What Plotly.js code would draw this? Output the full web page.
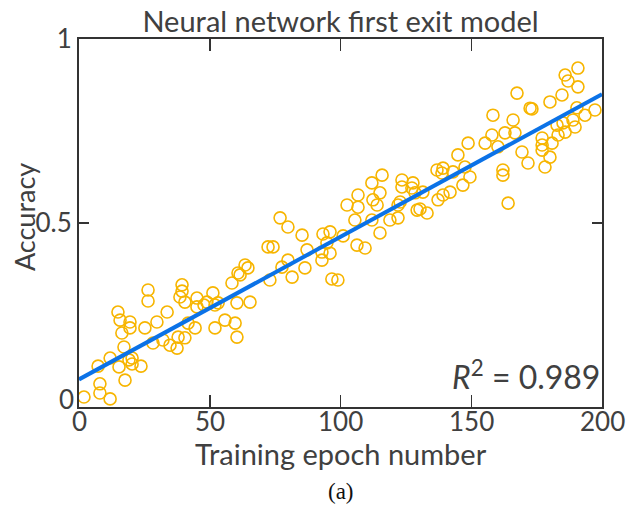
<!DOCTYPE html>
<html>
<head>
<meta charset="utf-8">
<script src="https://cdn.plot.ly/plotly-3.0.1.min.js"></script>
<style>
html,body{margin:0;padding:0;background:#fff;}
#chart{width:628px;height:511px;}
</style>
</head>
<body>
<div id="chart"></div>
<script>
// Training epoch (x) and accuracy (y) of the scatter points
const epochs = [
  1.9, 8.0, 8.0, 11.9, 7.3, 11.9, 15.3, 17.6, 14.9, 15.7, 19.5, 19.5, 16.4, 17.2, 19.1, 20.3, 20.3, 23.7,
  26.4, 26.4, 25.2, 29.8, 28.3, 33.7, 32.1, 34.8, 37.5, 37.9, 39.4, 39.4, 38.6, 40.5, 41.7, 40.5, 44.4, 45.1, 45.1, 47.8,
  51.2, 52.0, 53.2, 55.8, 58.5, 59.7, 60.4, 60.8, 63.5, 60.4, 52.0, 48.9, 65.4, 64.6, 61.6, 72.3, 74.2, 76.9, 79.9,
  85.3, 87.2, 93.3, 96.0, 94.8, 92.9, 79.9, 77.6, 81.5, 86.4, 73.0, 92.9, 96.0, 96.7, 99.0,
  101.0, 102.5, 106.7, 106.7, 105.5, 112.0, 112.4, 115.1, 114.0, 112.0, 115.1, 106.3, 109.4, 118.9, 122.0, 123.5,
  127.3, 122.0, 127.7, 129.3, 115.9, 123.5, 136.9, 138.8, 131.5, 137.3, 122.8, 133.1, 130.4, 128.5,
  167.5, 158.3, 172.5, 166.0, 157.9, 162.9, 166.7, 155.3, 160.2, 148.8, 144.9, 169.4, 171.7, 147.6, 143.0, 139.2,
  149.5, 146.8, 141.9, 139.2, 162.1, 162.1, 164.1, 190.8, 185.9, 187.0, 190.8, 184.7, 180.1, 173.2, 190.4, 197.3,
  193.5, 188.9, 185.1, 182.8, 189.7, 185.9, 183.2, 177.1, 177.1, 180.9, 177.1, 180.1, 178.2
];
const accuracy = [
  0.027, 0.063, 0.038, 0.022, 0.111, 0.133, 0.109, 0.073, 0.258, 0.236, 0.231, 0.215, 0.201, 0.163, 0.128, 0.133, 0.117, 0.111,
  0.318, 0.288, 0.215, 0.231, 0.174, 0.258, 0.182, 0.168, 0.160, 0.190, 0.332, 0.315, 0.299, 0.285, 0.228, 0.188, 0.215, 0.296, 0.272, 0.277,
  0.310, 0.215, 0.283, 0.236, 0.337, 0.228, 0.190, 0.364, 0.386, 0.283, 0.277, 0.285, 0.285, 0.378, 0.359, 0.435, 0.435, 0.514, 0.489,
  0.467, 0.427, 0.470, 0.476, 0.446, 0.399, 0.399, 0.380, 0.353, 0.378, 0.345, 0.421, 0.418, 0.348, 0.345,
  0.465, 0.549, 0.576, 0.543, 0.508, 0.609, 0.563, 0.582, 0.549, 0.508, 0.473, 0.440, 0.432, 0.508, 0.514, 0.598,
  0.595, 0.549, 0.609, 0.535, 0.630, 0.617, 0.644, 0.636, 0.584, 0.563, 0.557, 0.527, 0.538, 0.582,
  0.853, 0.793, 0.812, 0.780, 0.739, 0.745, 0.745, 0.717, 0.707, 0.717, 0.685, 0.693, 0.663, 0.652, 0.639, 0.649,
  0.625, 0.603, 0.584, 0.576, 0.644, 0.630, 0.554, 0.921, 0.902, 0.886, 0.870, 0.848, 0.829, 0.810, 0.813, 0.807,
  0.793, 0.780, 0.772, 0.766, 0.761, 0.747, 0.739, 0.731, 0.712, 0.717, 0.698, 0.679, 0.652
];
// Linear fit
const fitEpochs = [0, 200];
const fitAccuracy = [0.075, 0.85];
const xTicks = [0, 50, 100, 150, 200];
const xTickText = ['0', '50', '100', '150', '200'];
const yTicks = [0.5, 1];
const yTickText = ['0.5', '1'];

const textColor = '#404040';
const fontFam = 'Lato, "Open Sans", sans-serif';

const traces = [
  {
    x: epochs, y: accuracy, type: 'scatter', mode: 'markers',
    marker: {symbol: 'circle-open', size: 12, color: '#F7B500', line: {width: 1.6, color: '#F7B500'}},
    showlegend: false, hoverinfo: 'skip'
  },
  {
    x: fitEpochs, y: fitAccuracy, type: 'scatter', mode: 'lines',
    line: {color: '#0B72E7', width: 4},
    showlegend: false, hoverinfo: 'skip'
  }
];

const annotations = xTicks.map((v, i) => ({
  xref: 'x', yref: 'paper', x: v, y: 0, xanchor: 'center', yanchor: 'middle', yshift: -14,
  text: xTickText[i], showarrow: false, font: {size: 26, color: textColor, family: fontFam}
}));
annotations.push(
  {xref: 'paper', yref: 'y', x: 0, y: 0, xanchor: 'right', yanchor: 'bottom', xshift: -3, yshift: -10,
   text: '0', showarrow: false, font: {size: 26, color: textColor, family: fontFam}},
  {xref: 'paper', yref: 'paper', x: 0.5, y: 0, xanchor: 'center', yanchor: 'middle', yshift: -46,
   text: 'Training epoch number', showarrow: false, font: {size: 29, color: textColor, family: fontFam}},
  {xref: 'paper', yref: 'paper', x: 0, y: 0.516, xanchor: 'center', yanchor: 'middle', xshift: -55, textangle: -90,
   text: 'Accuracy', showarrow: false, font: {size: 27, color: textColor, family: fontFam}},
  {xref: 'paper', yref: 'paper', x: 1, y: 0.088, xanchor: 'right', yanchor: 'middle', xshift: 0,
   text: '<i>R</i><sup>2</sup> = 0.989', showarrow: false, font: {size: 32, color: textColor, family: fontFam}},
  {xref: 'paper', yref: 'paper', x: 0.5, y: 0, xanchor: 'center', yanchor: 'middle', yshift: -84,
   text: '(a)', showarrow: false, font: {size: 23, color: '#111', family: '"Liberation Serif", serif'}}
);

const layout = {
  width: 628, height: 511,
  margin: {l: 79, r: 26, t: 39, b: 104},
  paper_bgcolor: '#fff', plot_bgcolor: '#fff',
  font: {family: fontFam, color: textColor, size: 26},
  title: {text: 'Neural network first exit model', x: 0.5, xref: 'paper', xanchor: 'center',
          y: 1, yref: 'paper', yanchor: 'bottom', pad: {b: 7},
          font: {family: fontFam, size: 29, color: textColor}},
  xaxis: {
    range: [0, 200], tickvals: xTicks, ticks: 'inside', ticklen: 12, tickwidth: 1.5, tickcolor: '#333',
    showline: true, linecolor: '#333', linewidth: 2, mirror: 'ticks', showgrid: false, zeroline: false,
    showticklabels: false
  },
  yaxis: {
    range: [0, 1], tickvals: yTicks, ticktext: yTickText, ticks: 'inside', ticklen: 10, tickwidth: 1.5, tickcolor: '#333',
    showline: true, linecolor: '#333', linewidth: 2, mirror: 'ticks', showgrid: false, zeroline: false,
    tickfont: {size: 26, color: textColor, family: fontFam}
  },
  annotations: annotations
};

Plotly.newPlot('chart', traces, layout, {displayModeBar: false, staticPlot: true});
</script>
</body>
</html>
